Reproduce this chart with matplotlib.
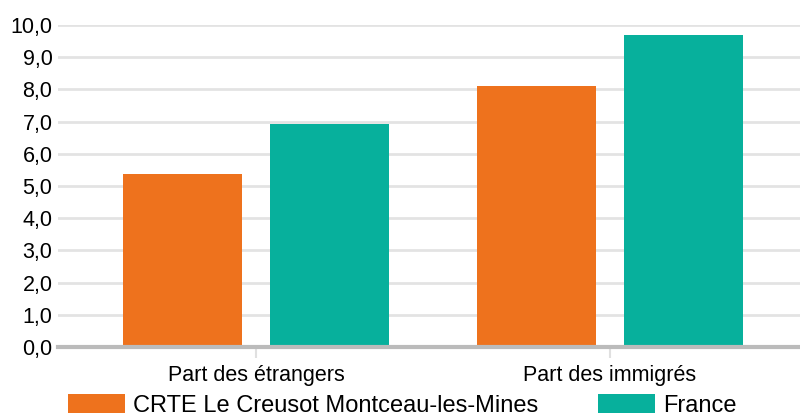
import numpy as np
import matplotlib.pyplot as plt

plt.rcParams['font.family'] = ['Liberation Sans', 'DejaVu Sans']

# Donnees
categories = ["Part des étrangers", "Part des immigrés"]
series = ["CRTE Le Creusot Montceau-les-Mines", "France"]
crte = [5.37, 8.12]
france = [6.94, 9.68]
couleurs = ["#EE721D", "#07B09C"]
yticks = np.arange(0, 11, 1)

fig = plt.figure(figsize=(8, 4.19), dpi=100)
ax = fig.add_axes([58/800, 1 - 347/419, 1 - 58/800, (347 - 25)/419])

x = np.arange(len(categories))
w = 0.336
d = 0.2076
b1 = ax.bar(x - d, crte, w, color=couleurs[0], label=series[0], zorder=2)
b2 = ax.bar(x + d, france, w, color=couleurs[1], label=series[1], zorder=2)

ax.set_xlim(-0.559, 1.537)
ax.set_ylim(0, 10)
ax.set_yticks(yticks)
ax.set_yticklabels([f"{v:.1f}".replace(".", ",") for v in yticks])
ax.yaxis.grid(True, color="#e3e3e3", linewidth=2, zorder=0)
ax.set_axisbelow(True)
ax.tick_params(axis="y", length=0, pad=4, labelsize=15.5)
ax.set_xticks(x)
ax.set_xticklabels(categories)
ax.tick_params(axis="x", length=8, width=1.5, color="#e0e0e0", pad=5, labelsize=15.5)
for s in ["top", "right", "left"]:
    ax.spines[s].set_visible(False)
ax.spines["bottom"].set_color("#bbbbbb")
ax.spines["bottom"].set_linewidth(3)
ax.spines["bottom"].set_zorder(3)

fig.legend(handles=[b1, b2], loc="upper left", bbox_to_anchor=(68/800, 1 - 394/419),
           ncol=2, frameon=False, fontsize=17, handlelength=2.4, handleheight=0.85,
           handletextpad=0.34, columnspacing=2.55, borderpad=0, borderaxespad=0)

fig.savefig("out.png", dpi=100)
